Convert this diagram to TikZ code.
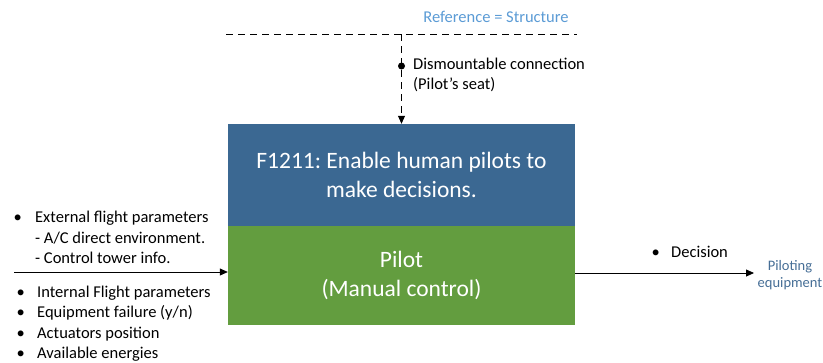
\documentclass[tikz,border=0pt]{standalone}
\usepackage{fontspec}
\setmainfont{Carlito}
\usepackage{tikz}
\usetikzlibrary{arrows.meta,positioning,calc}
\definecolor{funcblue}{RGB}{59,104,146}
\definecolor{pilotgreen}{RGB}{99,157,63}
\definecolor{refblue}{RGB}{91,155,213}
\definecolor{equipblue}{RGB}{70,110,150}
\newcommand{\listfont}{\fontsize{16.5}{20.5}\selectfont}
\newcommand{\boxfont}{\fontsize{23.5}{29}\selectfont}
\frenchspacing

\begin{document}
\begin{tikzpicture}[x=1pt, y=-1pt,
    func/.style={rectangle, draw=none, fill=funcblue, text=white, align=center,
                 minimum width=347pt, minimum height=102pt, inner sep=0pt, font=\boxfont},
    pilotbox/.style={rectangle, draw=none, fill=pilotgreen, text=white, align=center,
                 minimum width=347pt, minimum height=99pt, inner sep=0pt, font=\boxfont},
    plist/.style={anchor=north west, inner sep=0pt, align=left, font=\listfont},
    arr/.style={-{Triangle[length=8pt,width=7pt]}, line width=0.8pt},
    dasharr/.style={arr, dash pattern=on 7pt off 5pt},
    dot/.style={circle, fill=black, inner sep=0pt, minimum size=7pt}
]
\useasboundingbox (0,0) rectangle (823,362);

% function and actor
\node[func] (f1211) at (401.5,175) {F1211: Enable human pilots to\\make decisions.};
\node[pilotbox, below=0pt of f1211] (pilot) {Pilot\\(Manual control)};

% reference structure
\coordinate (refL) at (226,34);
\coordinate (refR) at (577,34);
\draw[line width=0.8pt, dash pattern=on 7pt off 5pt] (refL) -- (refR);
\node[font=\listfont, text=refblue] (reflabel) at (496,17) {Reference = Structure};
\coordinate (reftop) at (f1211.north |- refL);
\draw[dasharr] (reftop) -- (f1211.north);
\node[dot] (seat) at (401.5,66) {};
\node[plist] (seatlabel) at (413,57.6) {Dismountable connection\\(Pilot’s seat)};

% inputs
\coordinate (in) at (14,272);
\draw[arr] (in) -- (in -| pilot.west);
\node[plist] (extin) at (13.5,208) {\begin{tabular}{@{}p{21.5pt}@{}l@{}}
  • & External flight parameters\\
    & - A/C direct environment.\\
    & - Control tower info.
\end{tabular}};
\node[plist] (intin) at (16.5,282.6) {\begin{tabular}{@{}p{20.5pt}@{}l@{}}
  • & Internal Flight parameters\\
  • & Equipment failure (y/n)\\
  • & Actuators position\\
  • & Available energies
\end{tabular}};

% output
\coordinate (out) at (754,273);
\draw[arr] (pilot.east |- out) -- (out);
\node[plist] (decision) at (651.5,242.6) {\begin{tabular}{@{}p{19.5pt}@{}l@{}}
  • & Decision
\end{tabular}};
\node[font=\fontsize{14.5}{17.5}\selectfont, text=equipblue, align=center, inner sep=0pt]
  (equip) at (790,275) {Piloting\\equipment};
\end{tikzpicture}
\end{document}
